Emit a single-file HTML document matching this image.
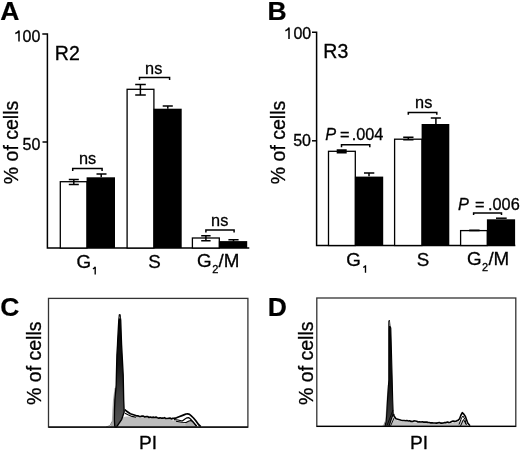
<!DOCTYPE html>
<html><head><meta charset="utf-8">
<style>
html,body{margin:0;padding:0;background:#fff;}
body{width:520px;height:450px;overflow:hidden;}
svg{display:block;will-change:transform;}
text{font-family:"Liberation Sans",sans-serif;fill:#000;stroke:#000;stroke-width:0.3px;}
.b{stroke-width:0.2px;}
.b{font-weight:bold;font-size:26.5px;}
.tk{font-size:16px;}
.yl{font-size:19.5px;}
.ns{font-size:16.3px;}
.xl{font-size:18.8px;}
.sub{font-size:11px;}
.r{font-size:19.5px;}
</style></head>
<body>
<svg width="520" height="450" viewBox="0 0 520 450">
<defs>
<linearGradient id="gC" gradientUnits="userSpaceOnUse" x1="0" y1="314" x2="0" y2="427"><stop offset="0" stop-color="#000"/><stop offset="0.45" stop-color="#141414"/><stop offset="0.7" stop-color="#3c3c3c"/><stop offset="1" stop-color="#555"/></linearGradient>
<linearGradient id="gD" gradientUnits="userSpaceOnUse" x1="0" y1="320" x2="0" y2="427"><stop offset="0" stop-color="#000"/><stop offset="0.6" stop-color="#111"/><stop offset="0.85" stop-color="#333"/><stop offset="1" stop-color="#444"/></linearGradient>
</defs>
<rect width="520" height="450" fill="#fff"/>

<!-- ============ Panel A ============ -->
<text class="b" x="0.2" y="19.5">A</text>
<text class="tk" x="40.3" y="41.6" text-anchor="end">00</text><path d="M19 30.6V41.4M19.1 30.7Q18 32.7 15.3 33.5" fill="none" stroke="#000" stroke-width="1.5"/>
<text class="tk" x="40.3" y="150.3" text-anchor="end">50</text>
<text class="yl" transform="translate(17.5,142.5) rotate(-90)" text-anchor="middle">% of cells</text>
<text class="r" x="54.8" y="59.6">R2</text>
<g stroke="#000" stroke-width="1.5" fill="none">
  <path d="M42.3 34H47.4V248H249.3"/>
  <path d="M42.5 142H47.4"/>
</g>
<!-- bars -->
<g stroke="#000" stroke-width="1.3">
  <rect x="60.3" y="181.7" width="26.7" height="66.3" fill="#fff"/>
  <rect x="86.6" y="177.3" width="28.4" height="70.7" fill="#000" stroke="none"/>
  <rect x="127.1" y="89.3" width="26.8" height="158.7" fill="#fff"/>
  <rect x="153.5" y="108.7" width="28.2" height="139.3" fill="#000" stroke="none"/>
  <rect x="192.4" y="238" width="26.9" height="10" fill="#fff"/>
  <rect x="218.9" y="241.1" width="28.3" height="6.9" fill="#000" stroke="none"/>
</g>
<g stroke="#000" stroke-width="1.5" fill="none">
  <!-- error bars -->
  <path d="M73.8 179.4V184.5M68.8 179.4H78.8M68.8 184.5H78.8"/>
  <path d="M101.2 173.9V177.3M96.5 173.9H106.5"/>
  <path d="M140.4 84.4V95M135.2 84.4H145.8M135.2 95H145.8"/>
  <path d="M167.8 106V108.7M162.7 106H172.8"/>
  <path d="M205.9 235.7V240.7M201.2 235.7H210.6M201.2 240.7H210.6"/>
  <path d="M233.5 239.7V241.5M228.4 239.7H238.6"/>
  <!-- brackets -->
  <path d="M72.7 171V168.6H102.1V171"/>
  <path d="M139.5 79.9V77.6H169.6V79.9"/>
  <path d="M205.9 232.6V229.9H234.1V232.6"/>
</g>
<text class="ns" x="87.6" y="163.8" text-anchor="middle">ns</text>
<text class="ns" x="153.7" y="73.7" text-anchor="middle">ns</text>
<text class="ns" x="219.7" y="225.6" text-anchor="middle">ns</text>
<text class="xl" x="76.5" y="267.5">G</text><path d="M95.2 266.8V274.6M95.2 266.9Q94.6 268.2 92.9 268.8" fill="none" stroke="#000" stroke-width="1.35"/>
<text class="xl" x="148.3" y="267.5">S</text>
<text class="xl" x="197" y="266.6">G</text><text class="sub" x="212.2" y="273.3">2</text><text class="xl" x="218.5" y="266.6">/M</text>

<!-- ============ Panel B ============ -->
<text class="b" x="267.6" y="19.5">B</text>
<text class="tk" x="311.2" y="39.3" text-anchor="end">00</text><path d="M289 27.6V39.1M289.1 27.7Q288 29.9 285.4 30.8" fill="none" stroke="#000" stroke-width="1.5"/>
<text class="tk" x="311" y="145.5" text-anchor="end">50</text>
<text class="yl" transform="translate(284.5,142.5) rotate(-90)" text-anchor="middle">% of cells</text>
<text class="r" x="323.3" y="57.9">R3</text>
<g stroke="#000" stroke-width="1.5" fill="none">
  <path d="M312 32.3H316.6V245.5H515.3"/>
  <path d="M312 140.8H316.6"/>
</g>
<g stroke="#000" stroke-width="1.3">
  <rect x="328.5" y="151.3" width="26.8" height="94.2" fill="#fff"/>
  <rect x="354.9" y="176.6" width="28.3" height="68.9" fill="#000" stroke="none"/>
  <rect x="394.6" y="139.2" width="27.4" height="106.3" fill="#fff"/>
  <rect x="421.6" y="124" width="27.7" height="121.5" fill="#000" stroke="none"/>
  <rect x="460.6" y="230.6" width="26.7" height="14.9" fill="#fff"/>
  <rect x="486.9" y="219.3" width="28.2" height="26.2" fill="#000" stroke="none"/>
</g>
<g stroke="#000" stroke-width="1.5" fill="none">
  <path d="M341.7 150V152.7M336.7 150.3H346.7M336.7 152.4H346.7" stroke-width="2"/>
  <path d="M369 173V176.3M364 173H374.3"/>
  <path d="M408.3 136.8V140.2M403.2 137.2H413.5M403.2 139.8H413.5"/>
  <path d="M435.9 118V124M430.8 118H440.9"/>
  <path d="M496 218.2H506.7"/>
  <path d="M469.2 230.4H479.6" stroke-width="1.8"/>
  <path d="M341.5 147.3V144.8H369.8V147.3"/>
  <path d="M408.3 114.8V112.5H436.8V114.8"/>
  <path d="M473.6 214.9V212.9H501.5V214.9"/>
</g>
<text class="ns" x="423.7" y="107.8" text-anchor="middle">ns</text>
<text class="ns" x="325.3" y="140" font-style="italic">P</text>
<text class="ns" x="340" y="140">=</text>
<text class="ns" x="351.7" y="140">.004</text>
<text class="ns" x="458" y="209.5" font-style="italic">P</text>
<text class="ns" x="475" y="209.5">=</text>
<text class="ns" x="488" y="209.5">.006</text>
<text class="xl" x="346.3" y="266.1">G</text><path d="M365.5 265.3V272.8M365.5 265.4Q364.9 266.8 363.2 267.4" fill="none" stroke="#000" stroke-width="1.35"/>
<text class="xl" x="416.8" y="265.6">S</text>
<text class="xl" x="467" y="265">G</text><text class="sub" x="482" y="271.1">2</text><text class="xl" x="488.4" y="265">/M</text>

<!-- ============ Panel C ============ -->
<text class="b" x="0.2" y="316.1">C</text>
<text class="yl" transform="translate(41.3,363.2) rotate(-90)" text-anchor="middle">% of cells</text>
<text class="xl" x="139" y="448.8" style="font-size:19.2px">PI</text>
<g stroke-linejoin="round"><!--HC-->
<path d="M116.0 427.0 118.5 423.0 120.5 420.0 123.0 417.3 126.0 416.5 130.0 416.4 140.0 417.0 150.0 417.7 160.0 418.5 165.0 419.0 170.0 419.7 176.0 421.0 182.0 422.4 187.0 424.2 191.0 425.8 193.0 427.0 Z" fill="#bdbdbd"/>
<path d="M110 427 L111.8 422 L112.4 410 L113 400 L114.6 388 L116 388 L116 427 Z" fill="#a8a8a8"/>
<path d="M124.8 409.5 126.3 411.0 130.3 413.8 135.0 415.3 136.4 415.8 137.8 415.9 139.2 416.3 140.6 416.5 142.0 416.0 143.4 416.1 144.8 417.0 146.2 416.5 147.6 416.6 149.0 417.4 150.4 417.0 151.8 417.5 153.2 417.2 154.6 417.5 156.0 417.1 157.4 417.7 158.8 418.1 160.2 417.8 161.6 418.2 163.0 418.2 164.4 417.7 165.8 418.5 167.2 418.5 168.6 418.3 170.0 418.1 171.4 418.9 172.8 418.4 174.0 418.3 176.5 417.8 179.0 416.8 182.0 415.6 184.5 414.6 186.0 414.0 187.6 413.8 189.5 414.4 191.0 415.6 193.5 418.0 196.0 421.0 198.5 424.5 200.8 426.6" fill="none" stroke="#000" stroke-width="1.7"/>
<path d="M125 413.2 L128 414.8 L132 416.4 L136 417.2" fill="none" stroke="#000" stroke-width="1.1"/>
<path d="M185 422.6 L189 421 L191 420.5 L193 421.8 L196.7 425.8 L197 427 L186 427 Z" fill="#b0b0b0"/>
<path d="M174 419.6 L178 420 L182.3 421 L185 419 L187 417.8 L188.6 417.6 L190.5 419 L193.8 422.9 L196.5 426.4" fill="none" stroke="#000" stroke-width="1.2"/>
<path d="M176 421.2 L182 422.2 L186 422.5 L189 421 L191 420.5 L193 421.8 L196.7 425.8" fill="none" stroke="#000" stroke-width="1.1"/>
<path d="M114.8 426.8 L114.4 420 L114.5 410 L114.9 400 L116.2 385 L116.4 375 L116.9 355 L117.5 345 L117.7 340 L118.8 320 L119.3 316 L120.1 316 L120.7 320 L121.4 340 L121.6 345 L122.4 360 L123.2 375 L123.4 385 L123.7 400 L124.2 412 L121.7 419.3 L119 423.3 L116.5 427 Z" fill="url(#gC)" stroke="#000" stroke-width="1.35"/>
<circle cx="119.7" cy="315.2" r="1.1" fill="#111"/><path d="M119.2 316.5 L120.2 316.5 L120.4 318.5 L119 318.5 Z" fill="#777"/>
<path d="M106 427 L110 425.5 L112 421.5" fill="none" stroke="#777" stroke-width="0.8"/>
<!--/HC--></g>
<rect x="48.5" y="298.4" width="199.4" height="128.7" fill="none" stroke="#333" stroke-width="1.3"/>
<path d="M48.5 427.1H247.9" stroke="#000" stroke-width="1.4"/>

<!-- ============ Panel D ============ -->
<text class="b" x="267.8" y="316">D</text>
<text class="yl" transform="translate(312.5,363.2) rotate(-90)" text-anchor="middle">% of cells</text>
<text class="xl" x="410" y="448.7" style="font-size:19.2px">PI</text>
<g stroke-linejoin="round"><!--HD-->
<path d="M388.0 426.4 390.0 421.5 393.0 417.0 395.0 419.5 398.0 420.6 401.3 421.2 410.0 421.9 420.0 422.7 430.0 423.3 440.0 423.6 450.0 423.1 456.0 422.3 459.0 421.8 461.0 420.5 462.5 419.8 464.5 421.0 466.5 423.5 468.5 426.4 Z" fill="#c2c2c2"/>
<path d="M383.5 426.4 L385.3 421 L386 410 L386.6 400 L387.8 385 L388.5 385 L388.5 426.4 Z" fill="#a0a0a0"/>
<path d="M393.6 414.0 394.0 416.0 396.0 418.8 401.3 420.2 402.7 420.5 404.1 420.5 405.5 420.8 406.9 420.5 408.3 421.0 409.7 420.8 411.1 421.4 412.5 421.5 413.9 420.9 415.3 421.0 416.7 421.2 418.1 422.0 419.5 421.7 420.9 422.0 422.3 421.8 423.7 422.1 425.1 422.1 426.5 422.1 427.9 422.4 429.3 422.5 430.7 422.9 432.1 422.7 433.5 423.0 434.9 423.0 436.3 423.1 437.7 422.9 439.1 422.5 440.5 423.1 441.9 423.1 443.3 423.0 444.7 422.6 446.1 422.6 447.5 422.1 448.9 422.6 450.3 422.2 451.7 421.6 453.1 421.1 454.5 421.4 455.9 421.3 457.0 420.6 458.0 420.4 459.6 418.8 461.0 415.0 462.3 412.7 463.5 413.8 465.4 416.5 467.7 423.0 470.0 425.8" fill="none" stroke="#000" stroke-width="1.6"/>
<path d="M459 424.5 L461.5 418 L463 416 L465 419.5 L466 424 M460.5 426 L463.5 419.5 L466.5 425" fill="none" stroke="#000" stroke-width="1"/>
<path d="M385 426.4 L386.2 421 L386.7 415 L387.5 400 L388.8 380 L388.8 350 L388.8 330 L388.9 321 L389.4 320.6 L389.9 326 L390.8 328 L391.4 350 L392.2 380 L392.7 400 L393.2 414 L391 420 L389 426.4 Z" fill="url(#gD)" stroke="#000" stroke-width="1.1"/>
<path d="M388.9 321.3 L389.5 321.3 L389.8 326 L389.1 326 Z" fill="#888"/>
<path d="M382.5 426.4 L384 424.5 L385.5 421" fill="none" stroke="#777" stroke-width="0.8"/>
<path d="M387.2 425 L393 410 M390.5 426 L394.3 417.5" fill="none" stroke="#000" stroke-width="0.9"/>
<!--/HD--></g>
<rect x="316.8" y="298" width="199" height="128.4" fill="none" stroke="#333" stroke-width="1.3"/>
<path d="M316.8 426.4H515.8" stroke="#000" stroke-width="1.4"/>
</svg>
</body></html>
